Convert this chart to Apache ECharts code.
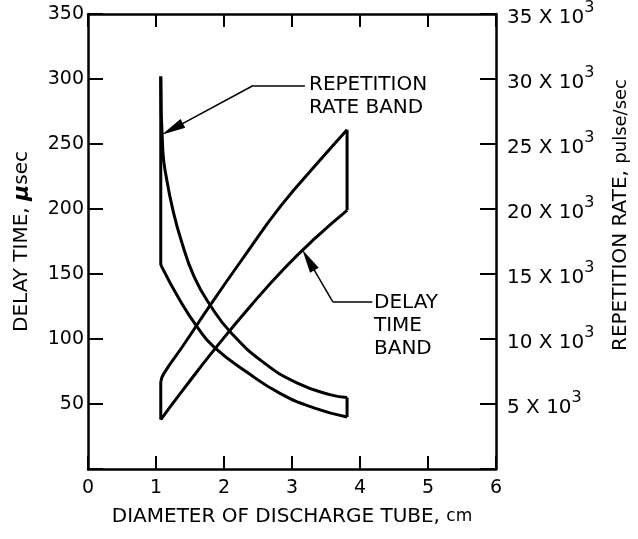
<!DOCTYPE html>
<html>
<head>
<meta charset="utf-8">
<style>
  html, body { margin: 0; padding: 0; background: #fff; }
  #chart { width: 638px; height: 539px; }
</style>
<script src="https://cdn.jsdelivr.net/npm/echarts@6/dist/echarts.min.js"></script>
</head>
<body>
<div id="chart"></div>
<script>
// diameter of discharge tube, cm
const repInnerD = [1.07, 1.10, 1.16, 1.25, 1.37, 1.56, 1.81, 2.10, 2.58, 3.08, 3.57, 3.81]
// repetition rate, pulse/sec
const repInnerRate = [30200, 24500, 22200, 19900, 17600, 14800, 12500, 10500, 8200, 6600, 5700, 5500]
const repOuterD = [1.07, 1.37, 1.61, 1.85, 2.35, 2.83, 3.32, 3.81]
const repOuterRate = [15700, 12800, 10900, 9400, 7400, 5800, 4700, 4000]

// delay time, usec
const delayUpperD = [1.07, 1.11, 1.40, 1.81, 2.25, 2.83, 3.42, 3.81]
const delayUpperT = [67, 73, 95, 127, 160, 202, 238, 261]
const delayLowerD = [1.07, 1.40, 1.86, 2.40, 2.90, 3.35, 3.81]
const delayLowerT = [38, 61, 92, 126, 155, 178, 199]

const delayTicks = [50, 100, 150, 200, 250, 300, 350]
const rateTicks = [5, 10, 15, 20, 25, 30, 35]

const FONT = 'DejaVu Sans'
const black = '#000'

const zip = (xs, ys) => xs.map((x, i) => [x, ys[i]])
const last = a => a[a.length - 1]

const band = (name, data, axis, smooth) => ({
  name: name,
  type: 'line',
  yAxisIndex: axis,
  data: data,
  smooth: smooth ? 0.5 : false,
  symbol: 'none',
  silent: true,
  lineStyle: { color: black, width: 3, join: 'round' },
  z: 3,
})

let chart = echarts.init(document.getElementById('chart'))

let option = {
  animation: false,
  backgroundColor: '#fff',
  grid: {
    left: 88,
    right: 142,
    top: 14,
    bottom: 70,
  },
  textStyle: { fontFamily: FONT, color: black },
  xAxis: [
    {
      type: 'value',
      min: 0,
      max: 6,
      interval: 1,
      position: 'bottom',
      name: '{a|DIAMETER OF DISCHARGE TUBE, }{b|cm}',
      nameLocation: 'middle',
      nameGap: 38,
      nameTextStyle: {
        rich: {
          a: { fontFamily: FONT, fontSize: 20, color: black },
          b: { fontFamily: FONT, fontSize: 17, color: black },
        },
      },
      splitLine: { show: false },
      axisLine: { show: true, onZero: false, lineStyle: { color: black, width: 2.5 } },
      axisTick: { show: true, inside: true, length: 13, lineStyle: { color: black, width: 2 } },
      axisLabel: { color: black, fontFamily: FONT, fontSize: 19, margin: 10 },
    },
    {
      type: 'value',
      min: 0,
      max: 6,
      interval: 1,
      position: 'top',
      splitLine: { show: false },
      axisLine: { show: true, onZero: false, lineStyle: { color: black, width: 2.5 } },
      axisTick: { show: true, inside: true, length: 13, lineStyle: { color: black, width: 2 } },
      axisLabel: { show: false },
    },
  ],
  yAxis: [
    {
      type: 'value',
      min: 0,
      max: 350,
      interval: 50,
      position: 'left',
      name: '{a|DELAY TIME, }{m|\u03bc}{a|sec}',
      nameLocation: 'middle',
      nameRotate: 90,
      nameGap: 55,
      nameTextStyle: {
        rich: {
          a: { fontFamily: FONT, fontSize: 20, color: black },
          m: { fontFamily: FONT, fontSize: 22, fontWeight: 'bold', fontStyle: 'italic', color: black },
        },
      },
      splitLine: { show: false },
      axisLine: { show: true, onZero: false, lineStyle: { color: black, width: 2.5 } },
      axisTick: { show: true, inside: true, length: 15, lineStyle: { color: black, width: 2 } },
      axisLabel: {
        color: black,
        fontFamily: FONT,
        fontSize: 19,
        margin: 4,
        formatter: v => (delayTicks.indexOf(v) >= 0 ? String(v) : ''),
      },
    },
    {
      type: 'value',
      min: 0,
      max: 35000,
      interval: 5000,
      position: 'right',
      splitLine: { show: false },
      axisLine: { show: true, onZero: false, lineStyle: { color: black, width: 2.5 } },
      axisTick: { show: true, inside: true, length: 16, lineStyle: { color: black, width: 2 } },
      axisLabel: {
        margin: 11,
        formatter: v => {
          let k = v / 1000
          if (rateTicks.indexOf(k) < 0) return ''
          return '{a|' + k + ' X 10}{s|3}'
        },
        rich: {
          a: { fontFamily: FONT, fontSize: 20, color: black, lineHeight: 28, verticalAlign: 'bottom' },
          s: { fontFamily: FONT, fontSize: 16, color: black, lineHeight: 16, verticalAlign: 'top' },
        },
      },
    },
  ],
  graphic: [
    {
      type: 'text',
      x: 621,
      y: 215,
      rotation: Math.PI / 2,
      silent: true,
      style: {
        text: '{a|REPETITION RATE, }{b|pulse/sec}',
        align: 'center',
        verticalAlign: 'middle',
        rich: {
          a: { fontFamily: FONT, fontSize: 20, fill: black },
          b: { fontFamily: FONT, fontSize: 18, fill: black },
        },
      },
    },
    {
      type: 'text',
      x: 309,
      y: 73,
      silent: true,
      style: {
        text: 'REPETITION\nRATE BAND',
        font: '20px "DejaVu Sans"',
        fill: black,
        lineHeight: 23,
        align: 'left',
        verticalAlign: 'top',
      },
    },
    {
      type: 'text',
      x: 374,
      y: 291,
      silent: true,
      style: {
        text: 'DELAY\nTIME\nBAND',
        font: '20px "DejaVu Sans"',
        fill: black,
        lineHeight: 23,
        align: 'left',
        verticalAlign: 'top',
      },
    },
  ],
  series: [
    // repetition rate band (right axis)
    band('rep inner', zip(repInnerD, repInnerRate), 1, true),
    band('rep outer', zip(repOuterD, repOuterRate), 1, true),
    band('rep left', [[repInnerD[0], repInnerRate[0]], [repOuterD[0], repOuterRate[0]]], 1, false),
    band('rep right', [[last(repInnerD), last(repInnerRate)], [last(repOuterD), last(repOuterRate)]], 1, false),
    // delay time band (left axis)
    band('delay upper', zip(delayUpperD, delayUpperT), 0, true),
    band('delay lower', zip(delayLowerD, delayLowerT), 0, true),
    band('delay left', [[delayLowerD[0], delayLowerT[0]], [delayUpperD[0], delayUpperT[0]]], 0, false),
    Object.assign(
      band('delay right', [[last(delayLowerD), last(delayLowerT)], [last(delayUpperD), last(delayUpperT)]], 0, false),
      {
        // leader lines for the two labels
        markLine: {
          silent: true,
          animation: false,
          label: { show: false },
          lineStyle: { color: black, width: 1.5, type: 'solid' },
          data: [
            [
              { coord: [3.19, 295], symbol: 'none' },
              { coord: [2.43, 295], symbol: 'none' },
            ],
            [
              { coord: [2.43, 295], symbol: 'none' },
              { coord: [1.24, 261.5], symbol: 'triangle', symbolSize: [10, 24] },
            ],
            [
              { coord: [4.18, 128.5], symbol: 'none' },
              { coord: [3.60, 128.5], symbol: 'none' },
            ],
            [
              { coord: [3.60, 128.5], symbol: 'none' },
              { coord: [3.24, 160.8], symbol: 'triangle', symbolSize: [10, 24] },
            ],
          ],
        },
      }
    ),
  ],
}

chart.setOption(option)
</script>
</body>
</html>
